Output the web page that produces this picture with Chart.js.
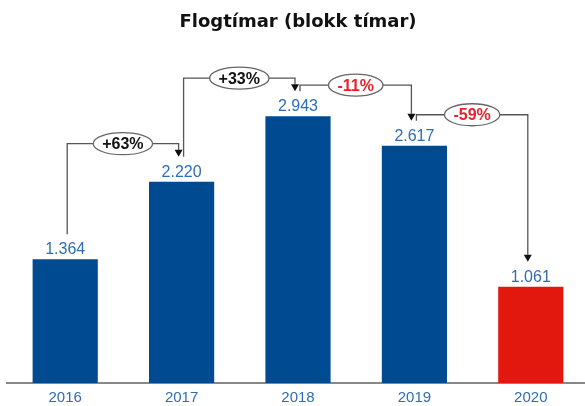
<!DOCTYPE html>
<html>
<head>
<meta charset="utf-8">
<script src="https://cdn.jsdelivr.net/npm/chart.js@4"></script>
<style>
  html, body { margin: 0; padding: 0; background: #fff; overflow: hidden; width: 585px; height: 406px; }
  #wrap { width: 600px; height: 406px; }
</style>
</head>
<body>
<div id="wrap"><canvas id="c" width="600" height="406"></canvas></div>
<script>
// ---- data ----
const years = ['2016', '2017', '2018', '2019', '2020'];
const blockHours = [1364, 2220, 2943, 2617, 1061];
const changeLabels = ['+63%', '+33%', '-11%', '-59%'];
const chartTitle = 'Flogtímar (blokk tímar)';

const BLUE = '#004A92';
const RED = '#E2180F';
const LABEL_BLUE = '#2F6DB5';
const barColors = years.map((y, i) => i === years.length - 1 ? RED : BLUE);

function fmtIs(n) {
  return String(n).replace(/\B(?=(\d{3})+(?!\d))/g, '.');
}

const annotPlugin = {
  id: 'annot',
  afterDatasetsDraw(chart) {
    const ctx = chart.ctx;
    const meta = chart.getDatasetMeta(0);
    const bars = meta.data;
    ctx.save();
    // value labels
    ctx.font = '16px "Liberation Sans", Arial, sans-serif';
    ctx.fillStyle = LABEL_BLUE;
    ctx.textAlign = 'center';
    ctx.textBaseline = 'alphabetic';
    bars.forEach((b, i) => {
      ctx.fillText(fmtIs(blockHours[i]), b.x, b.y - 5);
    });
    // connectors
    const gap = 25;
    for (let i = 0; i < bars.length - 1; i++) {
      const a = bars[i], b = bars[i + 1];
      const inc = blockHours[i + 1] >= blockHours[i];
      const sx = a.x + 2, sy = a.y - gap;
      const ex = b.x - 3, ey = b.y - gap;
      const ly = Math.min(sy, ey) - (inc ? 13 : 6);
      const ah = 7, aw = 4;
      ctx.strokeStyle = '#555';
      ctx.lineWidth = 1.3;
      ctx.beginPath();
      ctx.moveTo(sx, sy);
      ctx.lineTo(sx, ly);
      ctx.lineTo(ex, ly);
      ctx.lineTo(ex, ey - ah);
      ctx.stroke();
      ctx.fillStyle = '#111';
      ctx.beginPath();
      ctx.moveTo(ex - aw, ey - ah);
      ctx.lineTo(ex + aw, ey - ah);
      ctx.lineTo(ex, ey);
      ctx.closePath();
      ctx.fill();
      // ellipse with label
      const cx = (sx + ex) / 2;
      ctx.font = 'bold 16px "Liberation Sans", Arial, sans-serif';
      const tw = ctx.measureText(changeLabels[i]).width;
      const rx = tw / 2 + 9, ry = 11;
      ctx.beginPath();
      ctx.ellipse(cx, ly, rx, ry, 0, 0, Math.PI * 2);
      ctx.fillStyle = '#fff';
      ctx.fill();
      ctx.strokeStyle = '#666';
      ctx.lineWidth = 1.3;
      ctx.stroke();
      ctx.fillStyle = changeLabels[i].startsWith('-') ? '#E8202A' : '#111';
      ctx.textAlign = 'center';
      ctx.textBaseline = 'middle';
      ctx.fillText(changeLabels[i], cx, ly + 1);
      ctx.textBaseline = 'alphabetic';
    }
    ctx.restore();
  }
};

new Chart(document.getElementById('c'), {
  type: 'bar',
  data: {
    labels: years,
    datasets: [{
      data: blockHours,
      backgroundColor: barColors,
      borderWidth: 0,
      barPercentage: 0.56,
      categoryPercentage: 1.0
    }]
  },
  options: {
    responsive: false,
    animation: false,
    layout: { padding: { left: 7, right: 11, top: 0, bottom: 0 } },
    plugins: {
      legend: { display: false },
      tooltip: { enabled: false },
      title: {
        display: true,
        text: chartTitle,
        color: '#111',
        font: { family: '"DejaVu Sans", sans-serif', size: 18, weight: 'bold' },
        padding: { top: 12, bottom: 23 }
      }
    },
    scales: {
      x: {
        grid: { display: false, drawTicks: false },
        border: { display: true, color: '#888', width: 2 },
        ticks: {
          color: LABEL_BLUE,
          font: { family: '"Liberation Sans", Arial, sans-serif', size: 15 },
          padding: 6
        },
        afterFit(scale) { scale.height = 23; }
      },
      y: {
        display: false,
        min: 0,
        max: 3600
      }
    }
  },
  plugins: [annotPlugin]
});
</script>
</body>
</html>
